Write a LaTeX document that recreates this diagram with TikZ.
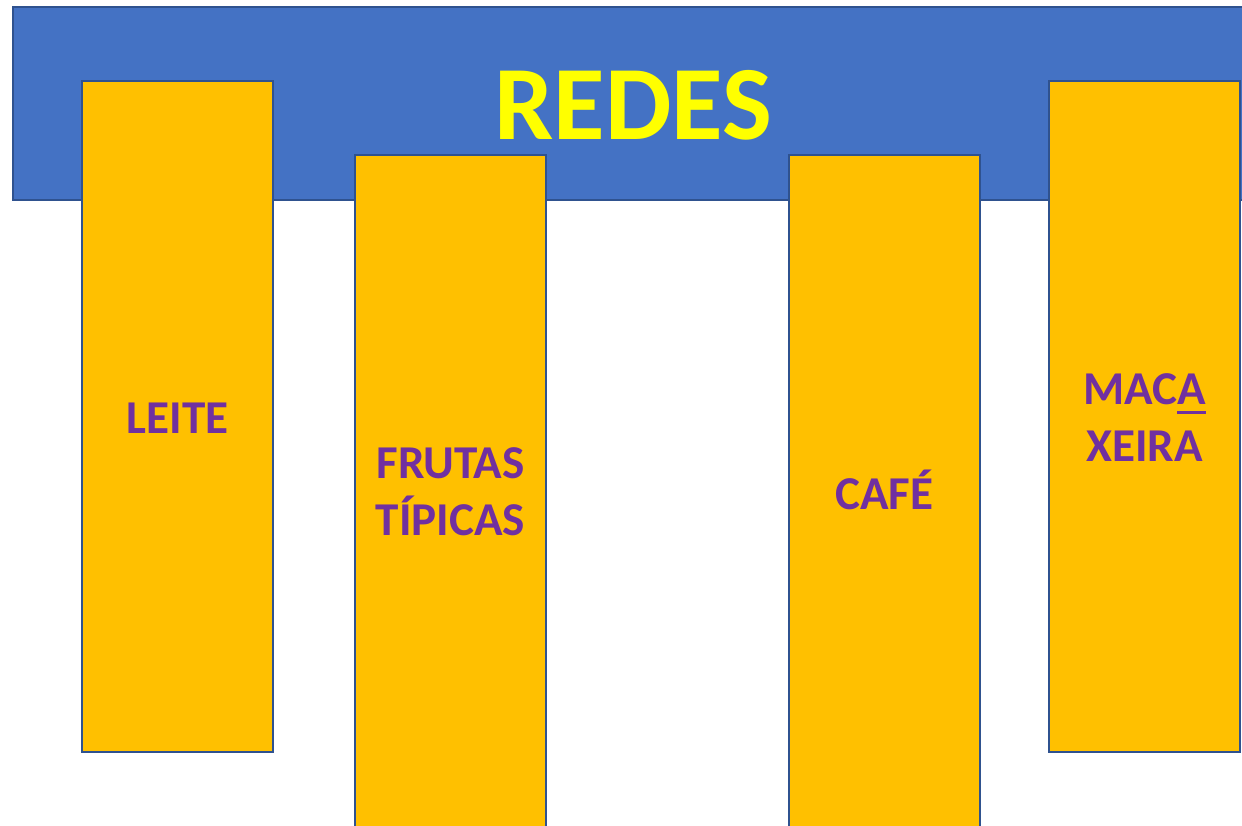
\documentclass[tikz,border=0pt]{standalone}
\usepackage{fontspec}
\setmainfont{Carlito}
\usepackage{tikz}

\definecolor{azul}{HTML}{4472C4}
\definecolor{borda}{HTML}{2F528F}
\definecolor{laranja}{HTML}{FFC000}
\definecolor{roxo}{HTML}{7030A0}
\definecolor{amarelo}{HTML}{FFFF00}

% sublinhado mais grosso, como no original
\newcommand\sublinhado[1]{\leavevmode\setbox0\hbox{#1}\rlap{\rule[-2.6pt]{\wd0}{0.9pt}}\box0}

\tikzset{
    faixa/.style={fill=azul, draw=borda, line width=0.7pt},
    coluna/.style={fill=laranja, draw=borda, line width=0.7pt},
    rotulo/.style={text=roxo, font=\fontsize{13.4}{16.2}\selectfont\bfseries, align=center, inner sep=0pt},
}

\begin{document}
\begin{tikzpicture}
    \clip (0,0) rectangle (12.42,8.25);
    \useasboundingbox (0,0) rectangle (12.42,8.25);

    \fill[white] (0,0) rectangle (12.42,8.25);

    % faixa azul
    \draw[faixa] (0.13,6.25) rectangle (12.60,8.18);
    \node[text=amarelo, font=\fontsize{30}{36}\selectfont\bfseries, anchor=base, inner sep=0pt] (redes) at (6.33,6.85) {REDES};

    % colunas
    \draw[coluna] (0.82,0.73) rectangle (2.73,7.44);
    \draw[coluna] (3.55,-0.20) rectangle (5.46,6.70);
    \draw[coluna] (7.89,-0.20) rectangle (9.80,6.70);
    \draw[coluna] (10.49,0.73) rectangle (12.40,7.44);

    \node[rotulo] (leite) at (1.775,4.07) {LEITE};
    \node[rotulo] (frutas) at (4.505,3.33) {FRUTAS\\TÍPICAS};
    \node[rotulo] (cafe) at (8.845,3.35) {CAFÉ};
    \node[rotulo] (macaxeira) at (11.445,4.07) {MAC\sublinhado{A}\\XEIRA};

\end{tikzpicture}
\end{document}
